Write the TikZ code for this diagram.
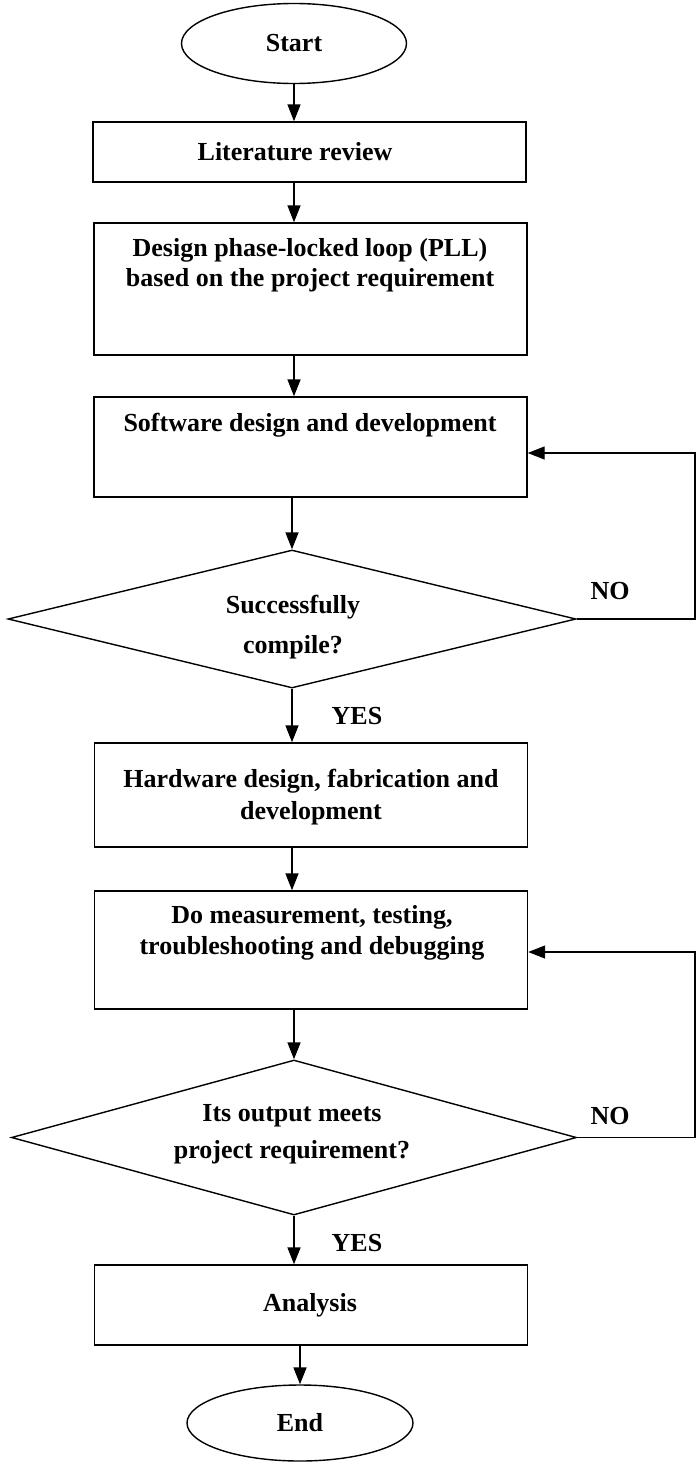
\documentclass[tikz,border=0pt]{standalone}
\usepackage{fontspec}
\setmainfont{Liberation Serif}
\usetikzlibrary{shapes.geometric,arrows.meta}

\tikzset{
  flowbox/.style={draw, line width=1.4pt, rectangle, inner sep=0pt, minimum width=433pt},
  terminal/.style={draw, line width=1.4pt, ellipse, inner sep=0pt, font=\fontsize{26}{34}\selectfont\bfseries},
  decision/.style={draw, line width=1.4pt, diamond, inner sep=0pt},
  flowtext/.style={font=\fontsize{26}{#1}\selectfont\bfseries, align=center, inner sep=0pt},
  flowtext/.default=35,
  flowarrow/.style={line width=1.6pt, -{Triangle[length=17pt,width=13pt]}},
  loopline/.style={line width=1.3pt, -{Triangle[length=17pt,width=13pt]}}
}

\begin{document}
\begin{tikzpicture}[x=1pt,y=-1pt]
  \useasboundingbox (0,0) rectangle (697,1464);

  % shapes
  \node[terminal, minimum width=225pt, minimum height=80pt] (start) at (294,43.5) {Start};
  \node[flowbox, minimum height=60pt] (lit) at (309.5,152) {};
  \node[flowbox, minimum height=132pt] (pll) at (310.5,289) {};
  \node[flowbox, minimum height=100pt] (sw) at (310.5,447) {};
  \node[decision, minimum width=568pt, minimum height=138pt] (compile) at (292,619) {};
  \node[flowbox, minimum height=104pt] (hw) at (311,795) {};
  \node[flowbox, minimum height=118pt] (test) at (311,950) {};
  \node[decision, minimum width=565pt, minimum height=155pt] (meets) at (294,1137.5) {};
  \node[flowbox, minimum height=80pt] (ana) at (311,1305) {};
  \node[terminal, minimum width=226pt, minimum height=76pt] (end) at (300,1423) {End};

  % texts
  \node[flowtext] (littext) at (295,152) {Literature review};
  \node[flowtext=30] (plltext) at (310,265) {Design phase-locked loop (PLL)\\based on the project requirement};
  \node[flowtext] (swtext) at (310,425) {Software design and development};
  \node[flowtext=40] (compiletext) at (293,627) {Successfully\\compile?};
  \node[flowtext=32] (hwtext) at (311,797) {Hardware design, fabrication and\\development};
  \node[flowtext=31] (testtext) at (312,933) {Do measurement, testing,\\troubleshooting and debugging};
  \node[flowtext=37] (meetstext) at (292,1134) {Its output meets\\project requirement?};
  \node[flowtext] (anatext) at (310,1305) {Analysis};
  \node[flowtext] (no1) at (610,591) {NO};
  \node[flowtext] (yes1) at (357,716) {YES};
  \node[flowtext] (no2) at (610,1116) {NO};
  \node[flowtext] (yes2) at (357,1243) {YES};

  % connectors
  \draw[flowarrow] (start.south) -- (start.south |- lit.north);
  \draw[flowarrow] (start.south |- lit.south) -- (start.south |- pll.north);
  \draw[flowarrow] (start.south |- pll.south) -- (start.south |- sw.north);
  \draw[flowarrow] (compile.north |- sw.south) -- (compile.north);
  \draw[flowarrow] (compile.south) -- (compile.south |- hw.north);
  \draw[flowarrow] (compile.south |- hw.south) -- (compile.south |- test.north);
  \draw[flowarrow] (meets.north |- test.south) -- (meets.north);
  \draw[flowarrow] (meets.south) -- (meets.south |- ana.north);
  \draw[flowarrow] (end.north |- ana.south) -- (end.north);

  % loops back
  \coordinate (back1) at (695,453);
  \coordinate (back2) at (695,952);
  \draw[loopline] (compile.east) -| (back1) -- (back1 -| sw.east);
  \draw[loopline] (meets.east) -| (back2) -- (back2 -| test.east);
\end{tikzpicture}
\end{document}
